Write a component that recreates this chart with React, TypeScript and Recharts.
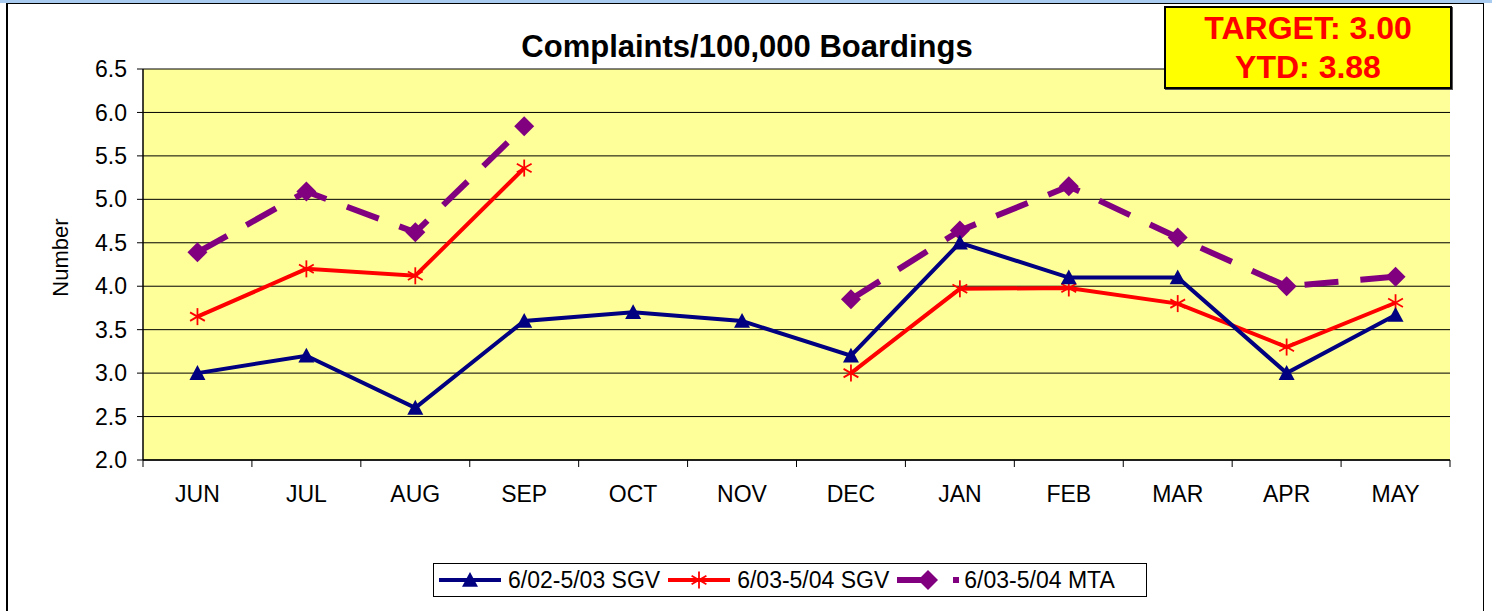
import React from 'react';
import {
  LineChart,
  Line,
  XAxis,
  YAxis,
  CartesianGrid,
} from 'recharts';

// chart values
const MONTHS = ['JUN', 'JUL', 'AUG', 'SEP', 'OCT', 'NOV', 'DEC', 'JAN', 'FEB', 'MAR', 'APR', 'MAY'];
const SGV_0203 = [3.0, 3.2, 2.6, 3.6, 3.7, 3.6, 3.2, 4.5, 4.1, 4.1, 3.0, 3.67];
const SGV_0304 = [3.65, 4.2, 4.12, 5.36, null, null, 3.0, 3.97, 3.98, 3.8, 3.3, 3.81];
const MTA_0304 = [4.39, 5.09, 4.62, 5.84, null, null, 3.85, 4.64, 5.15, 4.56, 4.0, 4.11];
const Y_TICKS = [2.0, 2.5, 3.0, 3.5, 4.0, 4.5, 5.0, 5.5, 6.0, 6.5];

const SERIES_NAMES = ['6/02-5/03 SGV', '6/03-5/04 SGV', '6/03-5/04 MTA'];

const W = 1492;
const H = 611;
const PLOT_LEFT = 143;
const PLOT_RIGHT = 1450;
const PLOT_TOP = 69;
const PLOT_BOTTOM = 460;
const X_AXIS_H = 60;
const BAND = (PLOT_RIGHT - PLOT_LEFT) / MONTHS.length;

const NAVY = '#000080';
const RED = '#FF0000';
const PURPLE = '#800080';
const FONT = '"Liberation Sans", Arial, sans-serif';

const data = MONTHS.map((m, i) => ({
  month: m,
  sgv0203: SGV_0203[i],
  sgv0304: SGV_0304[i],
  mta0304: MTA_0304[i],
}));

// markers
const triangle = (cx: number, cy: number, s = 8) =>
  `${cx},${cy - s} ${cx + s},${cy + s * 0.85} ${cx - s},${cy + s * 0.85}`;

const TriangleDot = (props: any) => {
  const { cx, cy, index } = props;
  if (cx == null || cy == null) return <g key={`t-${index}`} />;
  return <polygon key={`t-${index}`} points={triangle(cx, cy)} fill={NAVY} />;
};

const StarDot = (props: any) => {
  const { cx, cy, index } = props;
  if (cx == null || cy == null) return <g key={`s-${index}`} />;
  const r = 8.5;
  const d = r * 0.87;
  return (
    <g key={`s-${index}`} stroke={RED} strokeWidth={1.8}>
      <line x1={cx} y1={cy - r} x2={cx} y2={cy + r} />
      <line x1={cx - d} y1={cy - r / 2} x2={cx + d} y2={cy + r / 2} />
      <line x1={cx - d} y1={cy + r / 2} x2={cx + d} y2={cy - r / 2} />
    </g>
  );
};

const DiamondDot = (props: any) => {
  const { cx, cy, index } = props;
  if (cx == null || cy == null) return <g key={`d-${index}`} />;
  const r = 10;
  return (
    <polygon
      key={`d-${index}`}
      points={`${cx},${cy - r} ${cx + r},${cy} ${cx},${cy + r} ${cx - r},${cy}`}
      fill={PURPLE}
    />
  );
};

// month labels centred, tick marks at the band edges
const MonthTick = (props: any) => {
  const { x, y, payload } = props;
  const half = BAND / 2;
  const last = payload.value === MONTHS[MONTHS.length - 1];
  return (
    <g>
      <line x1={x - half} y1={y} x2={x - half} y2={y + 7} stroke="#000" strokeWidth={1} />
      {last && <line x1={x + half} y1={y} x2={x + half} y2={y + 7} stroke="#000" strokeWidth={1} />}
      <text x={x} y={y + 42} textAnchor="middle" fontSize={23} fill="#000" fontFamily={FONT}>
        {payload.value}
      </text>
    </g>
  );
};

const LegendBox = () => (
  <div
    style={{
      position: 'absolute',
      left: 433,
      top: 563,
      width: 714,
      height: 34,
      border: '1px solid #000',
      background: '#fff',
      boxSizing: 'border-box',
      display: 'flex',
      alignItems: 'center',
      fontFamily: FONT,
      fontSize: 23,
      color: '#000',
      whiteSpace: 'nowrap',
    }}
  >
    <svg width={66} height={22} style={{ marginLeft: 3 }}>
      <line x1={2} y1={11} x2={64} y2={11} stroke={NAVY} strokeWidth={4} />
      <polygon points={triangle(33, 11)} fill={NAVY} />
    </svg>
    <span style={{ marginLeft: 5 }}>{SERIES_NAMES[0]}</span>
    <svg width={66} height={22} style={{ marginLeft: 6 }}>
      <line x1={2} y1={11} x2={64} y2={11} stroke={RED} strokeWidth={4} />
      <StarDot cx={33} cy={11} index={0} />
    </svg>
    <span style={{ marginLeft: 5 }}>{SERIES_NAMES[1]}</span>
    <svg width={66} height={22} style={{ marginLeft: 6 }}>
      <line x1={2} y1={11} x2={64} y2={11} stroke={PURPLE} strokeWidth={6} strokeDasharray="34 22" />
      <DiamondDot cx={33} cy={11} index={0} />
    </svg>
    <span style={{ marginLeft: 3 }}>{SERIES_NAMES[2]}</span>
  </div>
);

export default function App() {
  return (
    <div
      style={{
        position: 'absolute',
        left: 0,
        top: 0,
        width: W,
        height: H,
        background: '#fff',
        overflow: 'hidden',
        fontFamily: FONT,
      }}
    >
      {/* outer frame */}
      <div style={{ position: 'absolute', left: 0, top: 0, width: W, height: 3, background: '#A9CBEF' }} />
      <div
        style={{
          position: 'absolute',
          left: 6,
          top: 3,
          width: 1484 - 6,
          height: H,
          borderLeft: '2px solid #000',
          borderTop: '1px solid #000',
          borderRight: '1px solid #000',
          boxSizing: 'border-box',
        }}
      />

      <LineChart
        width={W}
        height={H}
        data={data}
        margin={{
          top: PLOT_TOP,
          right: W - PLOT_RIGHT,
          left: 0,
          bottom: H - PLOT_BOTTOM - X_AXIS_H,
        }}
        style={{ position: 'absolute', left: 0, top: 0, fontFamily: FONT }}
      >
        <CartesianGrid horizontal vertical={false} stroke="#000" strokeWidth={1} fill="#FFFF99" fillOpacity={1} />
        <XAxis
          dataKey="month"
          height={X_AXIS_H}
          padding={{ left: BAND / 2, right: BAND / 2 }}
          axisLine={{ stroke: '#000', strokeWidth: 1.5 }}
          tickLine={false}
          tickSize={0}
          tickMargin={0}
          interval={0}
          tick={<MonthTick />}
        />
        <YAxis
          width={PLOT_LEFT}
          domain={[2, 6.5]}
          ticks={Y_TICKS}
          interval={0}
          tickFormatter={(v: number) => v.toFixed(1)}
          axisLine={{ stroke: '#000', strokeWidth: 1.5 }}
          tickLine={{ stroke: '#000' }}
          tickSize={6}
          tickMargin={10}
          tick={{ fill: '#000', fontSize: 23, fontFamily: FONT }}
          label={{ value: 'Number', angle: -90, position: 'center', dx: -11, dy: -7, fill: '#000', fontSize: 22, fontFamily: FONT }}
        />
        <YAxis
          yAxisId="right"
          orientation="right"
          width={0}
          domain={[2, 6.5]}
          tick={false}
          tickLine={false}
          axisLine={{ stroke: '#888', strokeWidth: 1.5 }}
        />
        <Line
          dataKey="mta0304"
          name={SERIES_NAMES[2]}
          stroke={PURPLE}
          strokeWidth={6}
          strokeDasharray="34 22"
          dot={(p: any) => <DiamondDot {...p} key={`d-${p.index}`} />}
          activeDot={false}
          connectNulls={false}
          isAnimationActive={false}
        />
        <Line
          dataKey="sgv0304"
          name={SERIES_NAMES[1]}
          stroke={RED}
          strokeWidth={4}
          dot={(p: any) => <StarDot {...p} key={`s-${p.index}`} />}
          activeDot={false}
          connectNulls={false}
          isAnimationActive={false}
        />
        <Line
          dataKey="sgv0203"
          name={SERIES_NAMES[0]}
          stroke={NAVY}
          strokeWidth={4}
          dot={(p: any) => <TriangleDot {...p} key={`t-${p.index}`} />}
          activeDot={false}
          isAnimationActive={false}
        />
      </LineChart>

      {/* title */}
      <div
        style={{
          position: 'absolute',
          left: 747,
          top: 30,
          transform: 'translateX(-50%)',
          fontSize: 31,
          fontWeight: 'bold',
          lineHeight: '34px',
          whiteSpace: 'nowrap',
          color: '#000',
        }}
      >
        Complaints/100,000 Boardings
      </div>

      {/* target box */}
      <div
        style={{
          position: 'absolute',
          left: 1164,
          top: 6,
          width: 288,
          height: 83,
          background: '#FFFF00',
          border: '2px solid #000',
          boxSizing: 'border-box',
          boxShadow: '1px 1px 0 #555',
          color: '#FF0000',
          fontSize: 32,
          fontWeight: 'bold',
          textAlign: 'center',
          lineHeight: '39px',
          paddingTop: 1,
        }}
      >
        <div>TARGET: 3.00</div>
        <div>YTD: 3.88</div>
      </div>

      <LegendBox />
    </div>
  );
}
